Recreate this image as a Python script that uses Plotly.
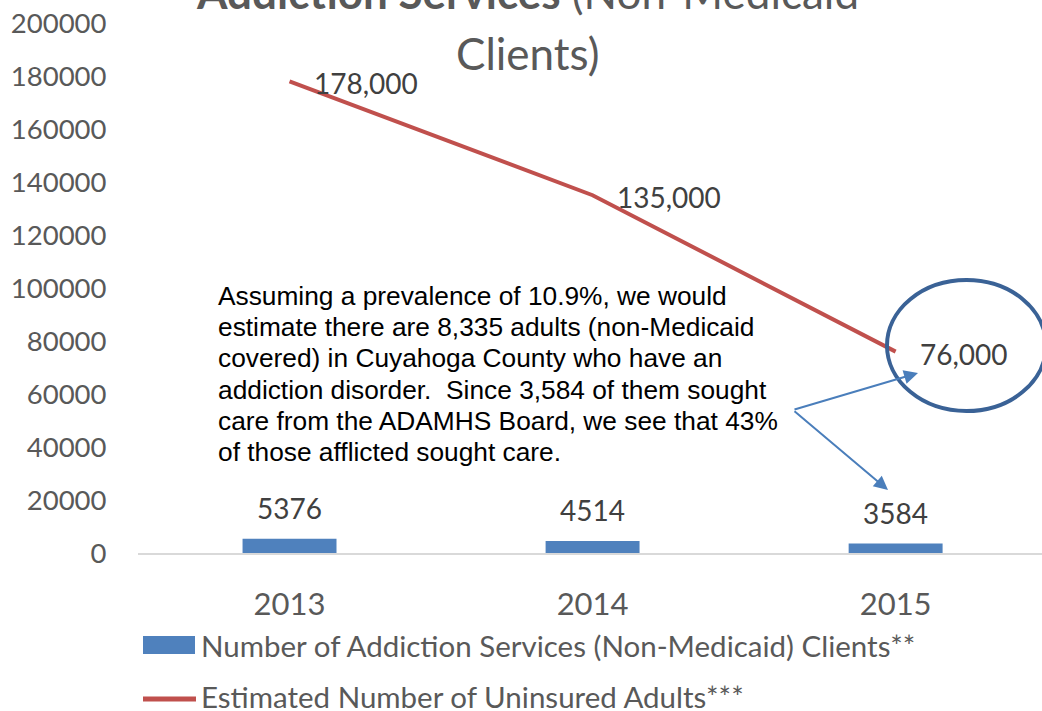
import plotly.graph_objects as go

years = ["2013", "2014", "2015"]
clients = [5376, 4514, 3584]
uninsured = [178000, 135000, 76000]
bar_name = "Number of Addiction Services (Non-Medicaid) Clients**"
line_name = "Estimated Number of Uninsured Adults***"
y_ticks = list(range(0, 200001, 20000))
note_lines = [
    "Assuming a prevalence of 10.9%, we would",
    "estimate there are 8,335 adults (non-Medicaid",
    "covered) in Cuyahoga County who have an",
    "addiction disorder.  Since 3,584 of them sought",
    "care from the ADAMHS Board, we see that 43%",
    "of those afflicted sought care.",
]

W, H = 1042, 711
ML, MT, MB = 138, 23, 158
PW, PH = W - ML, H - MT - MB
xs = list(range(len(years)))
XMAX = 2.483

FONT = "Lato"
GRAY = "#595959"
DARK = "#404040"


def px_x(p):
    return (p - ML) / PW


def px_y(p):
    return (H - MB - p) / PH


CAT = PW / (XMAX + 0.5)


def dx(p):
    return (p - ML) / CAT - 0.5


def dy(p):
    return (H - MB - p) / PH * 200000


fig = go.Figure()
fig.add_trace(go.Bar(x=xs, y=clients, name=bar_name, width=0.31,
                     marker=dict(color="#4F81BD", line=dict(width=0)),
                     showlegend=False))
fig.add_trace(go.Scatter(x=xs, y=uninsured, name=line_name, mode="lines",
                         line=dict(color="#C0504D", width=4),
                         showlegend=False))

ann = []
for i, v in enumerate(clients):
    ann.append(dict(x=xs[i], y=v, xref="x", yref="y", text=str(v),
                    showarrow=False, yanchor="bottom", yshift=12,
                    font=dict(family=FONT, size=28, color=DARK)))
for i, v in enumerate(uninsured):
    ann.append(dict(x=xs[i], y=v, xref="x", yref="y", text=f"{v:,}",
                    showarrow=False, xanchor="left", xshift=22, yshift=-2,
                    font=dict(family=FONT, size=28, color=DARK)))

# title (partly cut off at the top)
ann.append(dict(x=px_x(527), y=px_y(-8), xref="paper", yref="paper",
                text="<b>Addiction Services</b> (Non-Medicaid",
                showarrow=False, xanchor="center", yanchor="middle",
                font=dict(family=FONT, size=44, color=GRAY)))
ann.append(dict(x=px_x(527), y=px_y(53), xref="paper", yref="paper",
                text="Clients)", showarrow=False, xanchor="center",
                yanchor="middle", font=dict(family=FONT, size=44, color=GRAY)))

# note text, one annotation per line
for k, line in enumerate(note_lines):
    ann.append(dict(x=px_x(216), y=px_y(296 + 31.2 * k), xref="paper",
                    yref="paper", text=line, showarrow=False,
                    xanchor="left", yanchor="middle", align="left",
                    font=dict(family="Liberation Sans", size=26.3,
                              color="black")))

for hx, hy in [(918, 373), (888, 490)]:
    ann.append(dict(x=dx(hx), y=dy(hy), ax=dx(793), ay=dy(410),
                    xref="x", yref="y", axref="x", ayref="y",
                    showarrow=True, arrowhead=2, arrowsize=1.4,
                    arrowwidth=2, arrowcolor="#4A7EBB", text=""))

# legend
ann.append(dict(x=px_x(199), y=px_y(645), xref="paper", yref="paper",
                text=bar_name, showarrow=False, xanchor="left",
                yanchor="middle", font=dict(family=FONT, size=29.5, color=GRAY)))
ann.append(dict(x=px_x(199), y=px_y(696), xref="paper", yref="paper",
                text=line_name, showarrow=False, xanchor="left",
                yanchor="middle", font=dict(family=FONT, size=29.5, color=GRAY)))

shapes = [
    dict(type="circle", xref="x", yref="y", x0=dx(887), x1=dx(1046),
         y0=dy(411), y1=dy(280), line=dict(color="#3A6296", width=4)),
    dict(type="rect", xref="paper", yref="paper", x0=px_x(143), x1=px_x(195),
         y0=px_y(654), y1=px_y(636), fillcolor="#4F81BD", line=dict(width=0)),
    dict(type="line", xref="paper", yref="paper", x0=px_x(143), x1=px_x(196),
         y0=px_y(699), y1=px_y(699), line=dict(color="#C0504D", width=5)),
]

fig.update_layout(
    width=W, height=H,
    margin=dict(l=ML, r=0, t=MT, b=MB, pad=0),
    paper_bgcolor="white", plot_bgcolor="white",
    showlegend=False,
    annotations=ann, shapes=shapes,
    xaxis=dict(range=[-0.5, XMAX], tickvals=xs, ticktext=years,
               showgrid=False, zeroline=False, showline=True,
               linecolor="#D9D9D9", linewidth=2, ticks="outside",
               ticklen=23, tickcolor="rgba(0,0,0,0)",
               tickfont=dict(family=FONT, size=31, color=GRAY)),
    yaxis=dict(range=[0, 200000], tickvals=y_ticks, tickformat="d",
               showgrid=False, zeroline=False, showline=False,
               ticks="outside", ticklen=25, tickcolor="rgba(0,0,0,0)",
               tickfont=dict(family=FONT, size=27.5, color=GRAY)),
)

fig.write_html("out.html", config={"displayModeBar": False},
               post_script="document.body.style.margin='0px';"
                           "document.body.style.overflow='hidden';")
